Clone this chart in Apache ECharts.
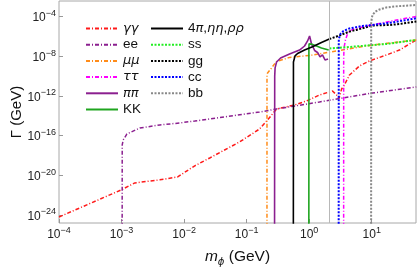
<!DOCTYPE html>
<html><head><meta charset="utf-8">
<script src="https://cdn.jsdelivr.net/npm/echarts@6/dist/echarts.min.js"></script>
<style>html,body{margin:0;padding:0;background:#fff}#c{width:417px;height:268px}</style>
</head><body><div id="c"></div>
<script>
// Tick values
const xTicks = [1e-4, 1e-3, 1e-2, 1e-1, 1, 10];
const yTicks = [1e-24, 1e-20, 1e-16, 1e-12, 1e-8, 1e-4];

// γγ
const mGG = [1e-4, 9.8e-4, 1.63e-3, 4.1e-3, 7.9e-3, 1.48e-2, 2.57e-2, 7.7e-2, 0.161, 0.209, 0.301, 0.583, 0.908, 1.46, 2.36, 2.85, 3.0, 3.3, 3.66, 4.41, 6.37, 9.18, 17.2, 27.7, 51.6];
const wGG = [6.3e-25, 3.3e-22, 1.7e-21, 3.5e-21, 6.9e-21, 9.1e-20, 5.6e-19, 2.3e-17, 4.7e-16, 3.0e-15, 4.9e-14, 1.23e-13, 3.16e-13, 1.26e-12, 3.2e-12, 1.0e-12, 5.6e-13, 5.1e-12, 1.3e-11, 1.32e-10, 1.07e-9, 3.4e-9, 1.37e-8, 4.3e-8, 4.5e-7];
// ee
const mEE = [1.022e-3, 1.025e-3, 1.06e-3, 1.22e-3, 1.96e-3, 4.1e-3, 8.5e-3, 1.48e-2, 0.161, 0.301, 1.46, 3.05, 10.3, 51.6];
const wEE = [1e-27, 1.15e-17, 3.6e-17, 1.48e-16, 5.9e-16, 1.2e-15, 1.9e-15, 3.0e-15, 2.4e-14, 4.9e-14, 2.5e-13, 5.6e-13, 2.0e-12, 8.1e-12];
// μμ
const mMuMu = [0.2113, 0.2115, 0.216, 0.248, 0.298, 0.485, 1.015, 3.05, 9.18, 27.7, 51.6];
const wMuMu = [1e-27, 1.3e-10, 2.1e-10, 6.3e-10, 2.9e-9, 7.8e-9, 1.23e-8, 3.9e-8, 1.26e-7, 2.8e-7, 4.5e-7];
// ττ
const mTauTau = [3.554, 3.56, 3.6, 3.8, 4.09, 4.57, 5.3, 7.1, 11.9, 24.8, 51.6];
const wTauTau = [1e-27, 5e-9, 7e-8, 4.5e-7, 1.8e-6, 4.1e-6, 5.8e-6, 9.1e-6, 1.8e-5, 4.6e-5, 1.05e-4];
// ππ
const mPiPi = [0.2792, 0.281, 0.285, 0.301, 0.349, 0.485, 0.701, 0.843, 0.942, 1.014, 1.09, 1.22, 1.36, 1.49, 1.63, 1.79, 2.0];
const wPiPi = [1e-27, 1e-10, 6.8e-10, 2.7e-9, 6.8e-9, 1.74e-8, 4.3e-8, 1.1e-7, 3.55e-7, 1.12e-6, 1.75e-7, 3.9e-8, 2.45e-8, 8.6e-9, 1.37e-8, 4.3e-9, 5.4e-9];
// KK
const mKK = [0.9874, 0.989, 0.995, 1.13, 1.31, 1.57, 2.05];
const wKK = [1e-27, 6e-8, 1.8e-7, 1.6e-7, 1.1e-7, 6.9e-8, 4.4e-8];
// 4π, ηη, ρρ
const m4Pi = [0.558, 0.56, 0.594, 0.652, 0.843, 1.13, 1.57, 2.1];
const w4Pi = [1e-27, 2.7e-9, 1.1e-8, 1.95e-8, 4.3e-8, 9.3e-8, 2.5e-7, 5.6e-7];
// ss
const mSS = [2.1, 4.92, 17.2, 51.6];
const wSS = [6.2e-8, 9.3e-8, 1.78e-7, 4.5e-7];
// gg
const mGluGlu = [2.1, 3.05, 4.41, 5.7, 10.3, 19.1, 27.7, 51.6];
const wGluGlu = [5.6e-7, 1.26e-6, 3.2e-6, 4.6e-6, 1.3e-5, 1.45e-5, 1.8e-5, 3.2e-5];
// cc
const mCC = [2.96, 2.97, 2.975, 3.16, 3.53, 4.41, 7.1, 10.3, 21.4, 51.6];
const wCC = [1e-27, 1.4e-7, 5.6e-7, 1.8e-6, 3.6e-6, 6.5e-6, 1.15e-5, 1.45e-5, 2.6e-5, 6.9e-5];
// bb
const mBB = [9.77, 9.8, 10.26, 11.45, 13.3, 17.2, 23.1, 33.3, 51.6];
const wBB = [1e-27, 2.9e-5, 1.48e-4, 3.3e-4, 5.3e-4, 8.5e-4, 1.07e-3, 1.26e-3, 1.51e-3];

const hadronThreshold = 2.1;

const FONT = 'Liberation Sans, Arial, sans-serif';
const GREEK = 'DejaVu Sans, Liberation Sans, sans-serif';
const pairs = (ms, ws) => ms.map((m, i) => [m, ws[i]]);
const DASHDOT = [4, 2, 1, 2];
const DOT = [2, 1.5];

function mk(name, ms, ws, color, type, width, extra) {
  return Object.assign({
    name, type: 'line', data: pairs(ms, ws), symbol: 'none', color,
    lineStyle: { color, width, type }, silent: true, clip: true
  }, extra || {});
}

const series = [
  mk('γγ', mGG, wGG, '#ff1a1a', DASHDOT, 1.5),
  mk('ee', mEE, wEE, '#8b1f8f', DASHDOT, 1.5),
  mk('μμ', mMuMu, wMuMu, '#ff8c1a', DASHDOT, 1.5),
  mk('ττ', mTauTau, wTauTau, '#ff00ff', DASHDOT, 1.5),
  mk('ππ', mPiPi, wPiPi, '#8b1f8f', 'solid', 1.6),
  mk('KK', mKK, wKK, '#1fa51f', 'solid', 1.6),
  mk('4π,ηη,ρρ', m4Pi, w4Pi, '#000000', 'solid', 1.6),
  mk('ss', mSS, wSS, '#22ee22', DOT, 2, {
    markLine: { silent: true, symbol: 'none', label: { show: false },
      lineStyle: { color: '#b8b8b8', width: 1, type: 'solid' },
      data: [{ xAxis: hadronThreshold }] }
  }),
  mk('gg', mGluGlu, wGluGlu, '#000000', DOT, 2),
  mk('cc', mCC, wCC, '#0000ff', DOT, 2),
  mk('bb', mBB, wBB, '#888888', DOT, 2),
];

const legendText = {
  'γγ': '{i|γγ}', 'ee': 'ee', 'μμ': '{i|μμ}', 'ττ': '{i|ττ}', 'ππ': '{i|ππ}', 'KK': 'KK',
  '4π,ηη,ρρ': '4{i|π},{i|ηη},{i|ρρ}', 'ss': 'ss', 'gg': 'gg', 'cc': 'cc', 'bb': 'bb'
};
const legendBase = {
  orient: 'vertical', itemWidth: 32, itemHeight: 12, itemGap: 1.2, selectedMode: false,
  itemStyle: { opacity: 0, borderWidth: 0 },
  formatter: n => legendText[n],
  textStyle: { fontFamily: FONT, fontSize: 13.5, color: '#111', lineHeight: 15,
    rich: { i: { fontFamily: GREEK, fontSize: 13, fontStyle: 'italic', color: '#111', lineHeight: 15 } } }
};

const supFmt = v => {
  const e = Math.round(Math.log10(v));
  return '{b|10}{s|' + (e < 0 ? '\u2212' + (-e) : e) + '}';
};
const tickRich = {
  b: { fontFamily: FONT, fontSize: 12, color: '#222', lineHeight: 15, verticalAlign: 'bottom' },
  s: { fontFamily: FONT, fontSize: 9, color: '#222', lineHeight: 9, verticalAlign: 'top' }
};

const chart = echarts.init(document.getElementById('c'), null, { renderer: 'canvas' });
chart.setOption({
  animation: false,
  backgroundColor: '#fff',
  grid: { left: 59, right: 1, top: 1, bottom: 45, show: true, borderColor: '#a8a8a8', borderWidth: 1, outerBoundsMode: 'none' },
  legend: [
    Object.assign({}, legendBase, { left: 80, top: 16, data: ['γγ', 'ee', 'μμ', 'ττ', 'ππ', 'KK'] }),
    Object.assign({}, legendBase, { left: 145, top: 16, data: ['4π,ηη,ρρ', 'ss', 'gg', 'cc', 'bb'] })
  ],
  xAxis: {
    type: 'log', logBase: 10, min: 1e-4, max: 51,
    name: '{i|m}{s|ϕ}{t| (GeV)}', nameLocation: 'middle', nameGap: 26, nameMoveOverlap: false,
    nameTextStyle: { rich: {
      i: { fontFamily: FONT, fontSize: 15.5, fontStyle: 'italic', color: '#111', lineHeight: 17, verticalAlign: 'top' },
      s: { fontFamily: GREEK, fontSize: 10, fontStyle: 'italic', color: '#111', lineHeight: 18, verticalAlign: 'bottom' },
      t: { fontFamily: FONT, fontSize: 15.5, color: '#111', lineHeight: 17, verticalAlign: 'top' } } },
    axisLine: { show: false },
    splitLine: { show: false },
    minorTick: { show: false },
    axisTick: { show: true, inside: true, length: 4, lineStyle: { color: '#999' }, customValues: xTicks },
    axisLabel: { customValues: xTicks, formatter: supFmt, rich: tickRich, margin: 3, hideOverlap: false }
  },
  yAxis: {
    type: 'log', logBase: 10, min: 1.55e-25, max: 3.8e-3,
    name: 'Γ (GeV)', nameLocation: 'middle', nameGap: 35, nameMoveOverlap: false,
    nameTextStyle: { fontFamily: FONT, fontSize: 15, color: '#111' },
    axisLine: { show: false },
    splitLine: { show: false },
    minorTick: { show: false },
    axisTick: { show: true, inside: true, length: 4, lineStyle: { color: '#999' }, customValues: yTicks },
    axisLabel: { customValues: yTicks, formatter: supFmt, rich: tickRich, margin: 3, hideOverlap: false }
  },
  series
});
</script></body></html>
